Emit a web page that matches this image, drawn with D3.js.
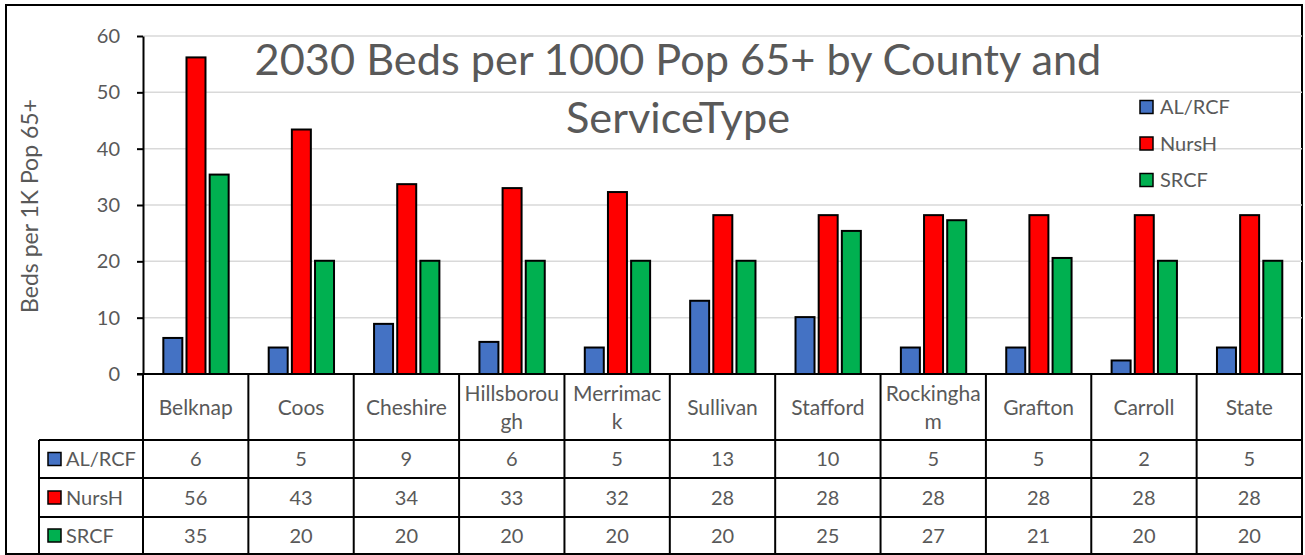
<!DOCTYPE html>
<html>
<head>
<meta charset="utf-8">
<script src="https://cdn.jsdelivr.net/npm/d3@7"></script>
<style>
  html, body { margin: 0; padding: 0; background: #fff; }
  svg { display: block; font-family: Lato, "Open Sans", sans-serif; }
</style>
</head>
<body>
<svg id="chart" width="1305" height="555"></svg>
<script>
// Counties (plus statewide) along the category axis
const categories = ["Belknap", "Coos", "Cheshire", "Hillsborough", "Merrimack", "Sullivan",
                    "Stafford", "Rockingham", "Grafton", "Carroll", "State"];

// Beds per 1000 population aged 65+, projected for 2030
const alrcf = [6.4, 4.7, 8.9, 5.7, 4.7, 13.0, 10.1, 4.7, 4.7, 2.4, 4.7];
const nursh = [56.2, 43.4, 33.7, 33.0, 32.3, 28.2, 28.2, 28.2, 28.2, 28.2, 28.2];
const srcf  = [35.4, 20.1, 20.1, 20.1, 20.1, 20.1, 25.4, 27.3, 20.6, 20.1, 20.1];

const seriesNames = ["AL/RCF", "NursH", "SRCF"];
const seriesColors = ["#4472C4", "#FF0000", "#00B050"];
const yTicks = [0, 10, 20, 30, 40, 50, 60];

const titleLines = ["2030 Beds per 1000 Pop 65+ by County and", "ServiceType"];
const yTitle = "Beds per 1K Pop 65+";

const series = seriesNames.map((name, i) => ({
  name, color: seriesColors[i], values: [alrcf, nursh, srcf][i]
}));

const svg = d3.select("#chart");
const textColor = "#595959";

// Plot geometry
const plot = { left: 143, right: 1302, top: 36, bottom: 374 };
const table = { left: 39, headBottom: 440, rowBottoms: [478, 517, 554] };

const x0 = d3.scaleBand().domain(categories).range([plot.left, plot.right]).padding(0);
const bw = x0.bandwidth();
const x1 = d3.scaleBand().domain(seriesNames)
  .range([bw * 0.193, bw * 0.813]).paddingInner(0.18).paddingOuter(0);
const y = d3.scaleLinear().domain([0, 60]).range([plot.bottom, plot.top]);

// Outer chart frame
svg.append("rect")
  .attr("x", 6).attr("y", 5).attr("width", 1296).attr("height", 549)
  .attr("fill", "#fff").attr("stroke", "#000").attr("stroke-width", 2);

// Horizontal gridlines
svg.append("g").selectAll("line")
  .data(yTicks.filter(t => t > 0))
  .join("line")
  .attr("x1", plot.left).attr("x2", plot.right)
  .attr("y1", d => y(d)).attr("y2", d => y(d))
  .attr("stroke", "#d9d9d9").attr("stroke-width", 1.5);

// Title
svg.append("g").selectAll("text")
  .data(titleLines)
  .join("text")
  .attr("x", 678)
  .attr("y", (d, i) => 75 + i * 57.5)
  .attr("text-anchor", "middle")
  .attr("font-size", 43.3)
  .attr("fill", textColor)
  .text(d => d);

// Bars
const groups = svg.append("g").selectAll("g")
  .data(categories)
  .join("g")
  .attr("transform", d => `translate(${x0(d)},0)`);

groups.selectAll("rect")
  .data((c, ci) => series.map(s => ({ name: s.name, color: s.color, value: s.values[ci] })))
  .join("rect")
  .attr("x", d => x1(d.name))
  .attr("width", x1.bandwidth())
  .attr("y", d => y(d.value))
  .attr("height", d => y(0) - y(d.value))
  .attr("fill", d => d.color)
  .attr("stroke", "#000")
  .attr("stroke-width", 2);

// Value axis
const yAxis = svg.append("g")
  .attr("transform", `translate(${plot.left},0)`)
  .call(d3.axisLeft(y).tickValues(yTicks).tickSize(6).tickSizeOuter(0).tickPadding(17));
yAxis.select(".domain").attr("stroke", "#000").attr("stroke-width", 2);
yAxis.selectAll(".tick line").attr("stroke", "#000").attr("stroke-width", 2);
yAxis.selectAll(".tick text")
  .attr("font-family", "Lato, sans-serif")
  .attr("font-size", 20)
  .attr("fill", textColor);

// Value axis title
svg.append("text")
  .attr("transform", `translate(38,${(plot.top + plot.bottom) / 2 + 1}) rotate(-90)`)
  .attr("text-anchor", "middle")
  .attr("font-size", 23)
  .attr("fill", textColor)
  .text(yTitle);

// Data table below the plot
const tg = svg.append("g");
const lineAttrs = sel => sel.attr("stroke", "#000").attr("stroke-width", 2);

// category axis line / table top
tg.append("line").attr("x1", plot.left - 6).attr("x2", plot.right)
  .attr("y1", plot.bottom).attr("y2", plot.bottom).call(lineAttrs);
// row separators
tg.selectAll("line.row")
  .data([table.headBottom, ...table.rowBottoms])
  .join("line").attr("class", "row")
  .attr("x1", table.left).attr("x2", plot.right)
  .attr("y1", d => d).attr("y2", d => d).call(lineAttrs);
// column separators
tg.selectAll("line.col")
  .data(d3.range(categories.length + 1))
  .join("line").attr("class", "col")
  .attr("x1", i => plot.left + i * bw).attr("x2", i => plot.left + i * bw)
  .attr("y1", plot.bottom).attr("y2", table.rowBottoms[2]).call(lineAttrs);
tg.append("line").attr("x1", table.left).attr("x2", table.left)
  .attr("y1", table.headBottom).attr("y2", table.rowBottoms[2]).call(lineAttrs);

// Character-level wrap of a label to a maximum pixel width
function wrapChars(textSel, str, maxW) {
  const lines = [];
  let cur = "";
  for (const ch of str) {
    textSel.text(cur + ch);
    if (textSel.node().getComputedTextLength() > maxW && cur.length) {
      lines.push(cur);
      cur = ch;
    } else {
      cur += ch;
    }
  }
  lines.push(cur);
  return lines;
}

// Category header cells
categories.forEach(c => {
  const cx = x0(c) + bw / 2;
  const t = tg.append("text")
    .attr("text-anchor", "middle")
    .attr("font-size", 21)
    .attr("fill", textColor);
  const lines = wrapChars(t, c, 96);
  t.text(null);
  const lh = 28.7;
  const midY = (plot.bottom + table.headBottom) / 2 + 0.5;
  lines.forEach((ln, i) => {
    t.append("tspan")
      .attr("x", cx)
      .attr("y", midY + (i - (lines.length - 1) / 2) * lh)
      .attr("dy", "0.35em")
      .text(ln);
  });
});

// Series rows: legend key, name and rounded values
const rowTops = [table.headBottom, ...table.rowBottoms.slice(0, 2)];
const fmt = d3.format(".0f");
series.forEach((s, si) => {
  const cy = (rowTops[si] + table.rowBottoms[si]) / 2;
  tg.append("rect")
    .attr("x", 48).attr("y", cy - 6.5).attr("width", 13).attr("height", 13)
    .attr("fill", s.color).attr("stroke", "#000").attr("stroke-width", 1.5);
  tg.append("text")
    .attr("x", 66).attr("y", cy).attr("dy", "0.35em")
    .attr("font-size", 20).attr("fill", textColor)
    .text(s.name);
  tg.selectAll(null)
    .data(s.values)
    .join("text")
    .attr("x", (d, i) => x0(categories[i]) + bw / 2)
    .attr("y", cy).attr("dy", "0.35em")
    .attr("text-anchor", "middle")
    .attr("font-size", 20).attr("fill", textColor)
    .text(d => fmt(d));
});

// Legend
const legend = svg.append("g").attr("transform", "translate(1140,107)");
const li = legend.selectAll("g")
  .data(series)
  .join("g")
  .attr("transform", (d, i) => `translate(0,${i * 36.5})`);
li.append("rect")
  .attr("x", 0).attr("y", -6.5).attr("width", 13).attr("height", 13)
  .attr("fill", d => d.color).attr("stroke", "#000").attr("stroke-width", 1.5);
li.append("text")
  .attr("x", 20).attr("dy", "0.35em")
  .attr("font-size", 20).attr("fill", textColor)
  .text(d => d.name);
</script>
</body>
</html>
